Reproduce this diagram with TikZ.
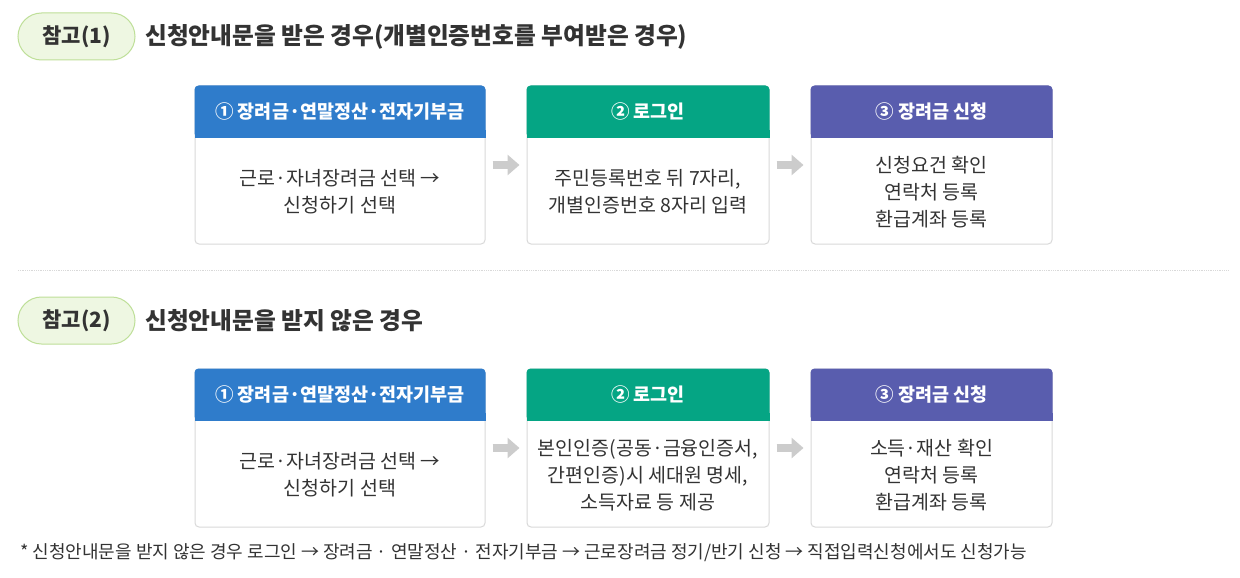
\documentclass[tikz,border=0pt]{standalone}
\usepackage{fontspec}
\setmainfont{Noto Sans CJK KR}
\usetikzlibrary{arrows.meta}
\definecolor{cblue}{HTML}{2F7CCB}
\definecolor{cgreen}{HTML}{05A584}
\definecolor{cpurple}{HTML}{595DAE}
\definecolor{pillfill}{HTML}{EEF7E2}
\definecolor{pilldraw}{HTML}{BEDF98}
\definecolor{txt}{HTML}{333333}
\definecolor{framec}{HTML}{D9D9D9}
\definecolor{arrowc}{HTML}{CCCCCC}
\tikzset{
  pill/.style={draw=pilldraw, fill=pillfill, line width=1pt, rounded corners=23.5pt,
    minimum width=117pt, minimum height=47pt, inner sep=0pt, text=txt,
    font=\fontsize{21}{24}\selectfont\bfseries},
  titletext/.style={anchor=west, inner sep=0pt, text=txt, font=\fontsize{23.7}{26}\selectfont\bfseries},
  stepframe/.style={draw=framec, fill=white, line width=1pt, rounded corners=4pt,
    minimum height=158pt, inner sep=0pt},
  headtext/.style={text=white, inner sep=0pt, font=\fontsize{18.5}{21}\selectfont\bfseries},
  bodytext/.style={text=txt, inner sep=0pt, align=center, font=\fontsize{19.5}{27}\selectfont},
  flow/.style={draw=arrowc, line width=8pt, -{Triangle[length=12pt,width=20pt]}, shorten <=7pt, shorten >=7pt},
  foot/.style={anchor=west, inner sep=0pt, text=txt, font=\fontsize{18}{20}\selectfont}
}
\newcommand{\stephead}[2]{%
  \fill[#2, rounded corners=4pt] (#1.north west) rectangle ([yshift=-52pt]#1.north east);
  \fill[#2] ([yshift=-44pt]#1.north west) rectangle ([yshift=-52pt]#1.north east);
}
\begin{document}
\begin{tikzpicture}[x=1pt,y=-1pt]
\useasboundingbox[fill=white] (0,0) rectangle (1240,578);

% ---------- section 1
\node[pill] (p1) at (76.5,36.5) {참고(1)};
\node[titletext] (t1) at (145,37) {신청안내문을 받은 경우(개별인증번호를 부여받은 경우)};

\node[stepframe, minimum width=290pt] (a1) at (340,165) {};
\node[stepframe, minimum width=242pt] (a2) at (648,165) {};
\node[stepframe, minimum width=241pt] (a3) at (931.5,165) {};
\stephead{a1}{cblue}
\stephead{a2}{cgreen}
\stephead{a3}{cpurple}
\node[headtext] (ah1) at ([yshift=-26pt]a1.north) {① 장려금·연말정산·전자기부금};
\node[headtext] (ah2) at ([yshift=-26pt]a2.north) {② 로그인};
\node[headtext] (ah3) at ([yshift=-26pt]a3.north) {③ 장려금 신청};
\node[bodytext] (ab1) at ([yshift=-27pt]a1.center) {근로·자녀장려금 선택 →\\신청하기 선택};
\node[bodytext] (ab2) at ([yshift=-27pt]a2.center) {주민등록번호 뒤 7자리,\\개별인증번호 8자리 입력};
\node[bodytext] (ab3) at ([yshift=-27pt]a3.center) {신청요건 확인\\연락처 등록\\환급계좌 등록};
\draw[flow] (a1.east) -- (a2.west);
\draw[flow] (a2.east) -- (a3.west);

% ---------- separator
\draw[densely dotted, draw=framec, line width=0.8pt] (18,270) -- (1228,270);

% ---------- section 2
\node[pill] (p2) at (76.5,320.5) {참고(2)};
\node[titletext] (t2) at (145,321) {신청안내문을 받지 않은 경우};

\node[stepframe, minimum width=290pt] (b1) at (340,448) {};
\node[stepframe, minimum width=242pt] (b2) at (648,448) {};
\node[stepframe, minimum width=241pt] (b3) at (931.5,448) {};
\stephead{b1}{cblue}
\stephead{b2}{cgreen}
\stephead{b3}{cpurple}
\node[headtext] (bh1) at ([yshift=-26pt]b1.north) {① 장려금·연말정산·전자기부금};
\node[headtext] (bh2) at ([yshift=-26pt]b2.north) {② 로그인};
\node[headtext] (bh3) at ([yshift=-26pt]b3.north) {③ 장려금 신청};
\node[bodytext] (bb1) at ([yshift=-27pt]b1.center) {근로·자녀장려금 선택 →\\신청하기 선택};
\node[bodytext] (bb2) at ([yshift=-27pt]b2.center) {본인인증(공동·금융인증서,\\간편인증)시 세대원 명세,\\소득자료 등 제공};
\node[bodytext] (bb3) at ([yshift=-27pt]b3.center) {소득·재산 확인\\연락처 등록\\환급계좌 등록};
\draw[flow] (b1.east) -- (b2.west);
\draw[flow] (b2.east) -- (b3.west);

\node[foot] (fn) at (20,553) {* 신청안내문을 받지 않은 경우 로그인 → 장려금 · 연말정산 · 전자기부금 → 근로장려금 정기/반기 신청 → 직접입력신청에서도 신청가능};
\end{tikzpicture}
\end{document}
